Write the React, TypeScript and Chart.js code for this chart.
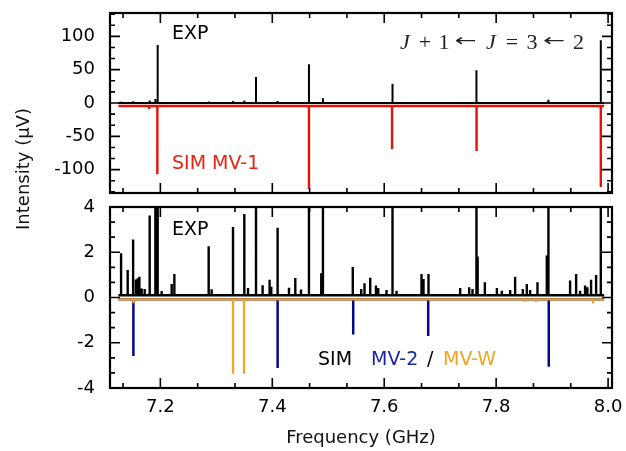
import React, { useEffect, useRef } from 'react';
import { Chart, registerables } from 'chart.js';
Chart.register(...registerables);

// ---------- data ----------
const X_MIN = 7.11;
const X_MAX = 8.007;
const xTickValues = [7.2, 7.4, 7.6, 7.8, 8.0];
const topYTicks = [-100, -50, 0, 50, 100];
const bottomYTicks = [-4, -2, 0, 2, 4];
const TOP_Y_MIN = -135;
const TOP_Y_MAX = 135;
const BOT_Y_MIN = -4;
const BOT_Y_MAX = 4;

const specStart = 7.125;
const specEnd = 7.993;

// experimental spectrum (µV)
const expFreq = [
  7.1298, 7.1416, 7.1513, 7.1563, 7.1595, 7.1625, 7.1666, 7.172, 7.1809, 7.1911,
  7.1952, 7.2023, 7.2202, 7.225, 7.2863, 7.2916, 7.3298, 7.35, 7.3566, 7.3709,
  7.3827, 7.3952, 7.3982, 7.4095, 7.4298, 7.4411, 7.4513, 7.4655, 7.4875, 7.4905,
  7.5438, 7.5589, 7.5648, 7.575, 7.5852, 7.5893, 7.6041, 7.6148, 7.622, 7.6666,
  7.6702, 7.6791, 7.7357, 7.7518, 7.7577, 7.7648, 7.7669, 7.7798, 7.8013, 7.8102,
  7.825, 7.8339, 7.8477, 7.8548, 7.8607, 7.8738, 7.8905, 7.8934, 7.9321, 7.9429,
  7.95, 7.9589, 7.963, 7.9696, 7.9786, 7.987,
];
const expInt = [
  1.96, 1.22, 2.56, 0.8, 0.85, 0.92, 0.4, 0.38, 3.62, 6,
  87, 0.29, 0.6, 1.04, 2.26, 0.36, 3.12, 3.69, 0.42, 39,
  0.54, 0.78, 0.47, 3.08, 0.43, 0.86, 0.35, 58, 1.07, 7,
  1.35, 0.38, 0.63, 0.87, 0.53, 0.42, 0.33, 29, 0.3, 1.04,
  0.82, 1.04, 0.42, 0.45, 0.38, 49, 1.81, 0.67, 0.42, 0.3,
  0.33, 0.92, 0.38, 0.6, 0.33, 0.67, 1.86, 5, 0.75, 1.04,
  0.3, 0.53, 0.45, 0.78, 1.0, 94,
];
const expBaseline = 0.1;

// simulation MV-1 (top panel)
const mv1Freq = [7.18, 7.1946, 7.4655, 7.614, 7.765, 7.987];
const mv1Int = [-9, -107, -129, -69, -72, -126];
const mv1Baseline = -4.5;

// simulation MV-2 and MV-W (bottom panel)
const mv2Freq = [7.1518, 7.4095, 7.5446, 7.6786, 7.894];
const mv2Int = [-2.59, -3.12, -1.64, -1.7, -3.06];
const mvwFreq = [7.152, 7.3298, 7.3494, 7.851, 7.871, 7.973];
const mvwInt = [-0.25, -3.37, -3.37, -0.2, -0.2, -0.26];
const mvBaseline = -0.08;

// ---------- helpers ----------
function sticks(freqs: number[], ints: number[], base: number) {
  const idx = freqs.map((_, i) => i).sort((a, b) => freqs[a] - freqs[b]);
  const pts: { x: number; y: number }[] = [{ x: specStart, y: base }];
  for (const i of idx) {
    pts.push({ x: freqs[i], y: base }, { x: freqs[i], y: ints[i] }, { x: freqs[i], y: base });
  }
  pts.push({ x: specEnd, y: base });
  return pts;
}

function minorTicks(major: number[], min: number, max: number) {
  const step = (major[1] - major[0]) / 3;
  const out: number[] = [];
  for (let k = -30; k <= 60; k++) {
    if (k % 3 === 0) continue;
    const v = major[0] + k * step;
    if (v >= min - 1e-9 && v <= max + 1e-9) out.push(v);
  }
  return out;
}

const FONT = "'DejaVu Sans', Verdana, sans-serif";
const RED = 'rgb(226, 18, 10)';
const BLUE = 'rgb(5, 8, 140)';
const ORANGE = 'rgb(240, 165, 35)';

function framePlugin(yMajor: number[], yMin: number, yMax: number) {
  return {
    id: 'frameTicks',
    afterDatasetsDraw(chart: any) {
      const { ctx, chartArea: a, scales } = chart;
      const xs = scales.x;
      const ys = scales.y;
      const xMinor = minorTicks(xTickValues, X_MIN, X_MAX);
      const yMinor = minorTicks(yMajor, yMin, yMax);
      ctx.save();
      ctx.strokeStyle = '#000';
      ctx.lineWidth = 1.6;
      const drawX = (vals: number[], len: number) => {
        vals.forEach((v) => {
          const p = xs.getPixelForValue(v);
          ctx.beginPath();
          ctx.moveTo(p, a.bottom);
          ctx.lineTo(p, a.bottom - len);
          ctx.moveTo(p, a.top);
          ctx.lineTo(p, a.top + len);
          ctx.stroke();
        });
      };
      const drawY = (vals: number[], len: number) => {
        vals.forEach((v) => {
          const p = ys.getPixelForValue(v);
          ctx.beginPath();
          ctx.moveTo(a.left, p);
          ctx.lineTo(a.left + len, p);
          ctx.moveTo(a.right, p);
          ctx.lineTo(a.right - len, p);
          ctx.stroke();
        });
      };
      drawX(xTickValues, 10);
      drawX(xMinor, 5);
      drawY(yMajor, 10);
      drawY(yMinor, 5);
      ctx.lineWidth = 2.2;
      ctx.strokeRect(a.left, a.top, a.right - a.left, a.bottom - a.top);
      ctx.restore();
    },
  };
}

type Label = { text: string; x: number; y: number; color: string };

function labelPlugin(labels: Label[], extra?: (ctx: CanvasRenderingContext2D) => void) {
  return {
    id: 'labels',
    afterDraw(chart: any) {
      const ctx: CanvasRenderingContext2D = chart.ctx;
      ctx.save();
      ctx.font = `19px ${FONT}`;
      ctx.textAlign = 'left';
      ctx.textBaseline = 'middle';
      labels.forEach((l) => {
        ctx.fillStyle = l.color;
        ctx.fillText(l.text, l.x, l.y);
      });
      if (extra) extra(ctx);
      ctx.restore();
    },
  };
}

// J + 1 <- J = 3 <- 2 : [text, italic, is arrow, center x]
const formulaTokens: [string, boolean, boolean, number][] = [
  ['J', true, false, 405],
  ['+', false, false, 425],
  ['1', false, false, 444],
  ['\u2190', false, true, 465.5],
  ['J', true, false, 491],
  ['=', false, false, 512],
  ['3', false, false, 532],
  ['\u2190', false, true, 554],
  ['2', false, false, 578.5],
];

function drawFormula(ctx: CanvasRenderingContext2D) {
  const size = 22;
  const y = 49;
  ctx.fillStyle = '#222';
  ctx.textBaseline = 'alphabetic';
  ctx.textAlign = 'center';
  formulaTokens.forEach(([t, it, arrow, cx]) => {
    if (arrow) {
      ctx.font = `18px 'DejaVu Sans', sans-serif`;
      const w = ctx.measureText(t).width;
      ctx.save();
      ctx.translate(cx, y - 7);
      ctx.scale(22 / w, 0.95);
      ctx.textBaseline = 'middle';
      ctx.fillText(t, 0, 0);
      ctx.restore();
    } else {
      ctx.font = `${it ? 'italic ' : ''}${size}px 'Liberation Serif', 'DejaVu Serif', serif`;
      ctx.fillText(t, cx, y);
    }
  });
}

function drawYTitle(ctx: CanvasRenderingContext2D) {
  ctx.save();
  ctx.translate(24, 169);
  ctx.rotate(-Math.PI / 2);
  ctx.font = `18px ${FONT}`;
  ctx.fillStyle = '#111';
  ctx.textAlign = 'center';
  ctx.textBaseline = 'middle';
  ctx.fillText('Intensity (\u03bcV)', 0, 0);
  ctx.restore();
}

const lineDs = (label: string, data: any[], color: string, width: number) => ({
  label,
  data,
  borderColor: color,
  backgroundColor: color,
  borderWidth: width,
  pointRadius: 0,
  tension: 0,
  fill: false,
});

const yAfterFit = (s: any) => {
  s.width = 110;
  s.paddingTop = 0;
  s.paddingBottom = 0;
};

export default function App() {
  const topRef = useRef<HTMLCanvasElement>(null);
  const botRef = useRef<HTMLCanvasElement>(null);

  useEffect(() => {
    Chart.defaults.font.family = FONT;

    const top = new Chart(topRef.current!, {
      type: 'line',
      data: {
        datasets: [
          lineDs('EXP', sticks(expFreq, expInt, expBaseline), '#000', 2),
          lineDs('SIM MV-1', sticks(mv1Freq, mv1Int, mv1Baseline), RED, 2.4),
        ],
      },
      options: {
        animation: false,
        responsive: false,
        layout: { padding: { top: 13, right: 14, bottom: 258, left: 0 } },
        plugins: { legend: { display: false }, tooltip: { enabled: false } },
        scales: {
          x: { type: 'linear', min: X_MIN, max: X_MAX, display: false },
          y: {
            type: 'linear',
            min: TOP_Y_MIN,
            max: TOP_Y_MAX,
            grid: { display: false, drawTicks: false },
            border: { display: false },
            afterBuildTicks: (s: any) => {
              s.ticks = topYTicks.map((v) => ({ value: v }));
            },
            afterFit: yAfterFit,
            ticks: {
              padding: 15,
              color: '#000',
              font: { size: 18, family: FONT },
              callback: (v: any) => String(v),
            },
          },
        },
      },
      plugins: [
        framePlugin(topYTicks, TOP_Y_MIN, TOP_Y_MAX),
        labelPlugin(
          [
            { text: 'EXP', x: 172, y: 34, color: '#000' },
            { text: 'SIM MV-1', x: 172, y: 164, color: 'rgb(232, 36, 18)' },
          ],
          (ctx) => {
            drawFormula(ctx);
            drawYTitle(ctx);
          }
        ),
      ],
    } as any);

    const bot = new Chart(botRef.current!, {
      type: 'line',
      data: {
        datasets: [
          lineDs('EXP', sticks(expFreq, expInt, expBaseline), '#000', 2.4),
          lineDs('MV-W', sticks(mvwFreq, mvwInt, mvBaseline), ORANGE, 2.2),
          lineDs('MV-2', sticks(mv2Freq, mv2Int, mvBaseline), BLUE, 2.5),
        ],
      },
      options: {
        animation: false,
        responsive: false,
        layout: { padding: { top: 207, right: 14, bottom: 0, left: 0 } },
        plugins: { legend: { display: false }, tooltip: { enabled: false } },
        scales: {
          x: {
            type: 'linear',
            min: X_MIN,
            max: X_MAX,
            grid: { display: false, drawTicks: false },
            border: { display: false },
            afterBuildTicks: (s: any) => {
              s.ticks = xTickValues.map((v) => ({ value: v }));
            },
            afterFit: (s: any) => {
              s.height = 63;
              s.paddingLeft = 0;
              s.paddingRight = 0;
            },
            ticks: {
              padding: 9,
              color: '#000',
              maxRotation: 0,
              font: { size: 18, family: FONT },
              callback: (v: any) => Number(v).toFixed(1),
            },
            title: {
              display: true,
              text: 'Frequency (GHz)',
              color: '#111',
              font: { size: 18, family: FONT },
              padding: { top: 0, bottom: 2 },
            },
          },
          y: {
            type: 'linear',
            min: BOT_Y_MIN,
            max: BOT_Y_MAX,
            grid: { display: false, drawTicks: false },
            border: { display: false },
            afterBuildTicks: (s: any) => {
              s.ticks = bottomYTicks.map((v) => ({ value: v }));
            },
            afterFit: yAfterFit,
            ticks: {
              padding: 15,
              color: '#000',
              font: { size: 18, family: FONT },
              callback: (v: any) => String(v),
            },
          },
        },
      },
      plugins: [
        framePlugin(bottomYTicks, BOT_Y_MIN, BOT_Y_MAX),
        labelPlugin([
          { text: 'EXP', x: 172, y: 230, color: '#000' },
          { text: 'SIM', x: 318, y: 360, color: '#000' },
          { text: 'MV-2', x: 371, y: 360, color: 'rgb(25, 40, 160)' },
          { text: '/', x: 427, y: 360, color: '#000' },
          { text: 'MV-W', x: 443, y: 360, color: ORANGE },
        ]),
      ],
    } as any);

    return () => {
      top.destroy();
      bot.destroy();
    };
  }, []);

  return (
    <div style={{ position: 'absolute', left: 0, top: 0, width: 626, height: 451, background: '#fff' }}>
      <canvas ref={topRef} width={626} height={451} style={{ position: 'absolute', left: 0, top: 0 }} />
      <canvas ref={botRef} width={626} height={451} style={{ position: 'absolute', left: 0, top: 0 }} />
    </div>
  );
}
